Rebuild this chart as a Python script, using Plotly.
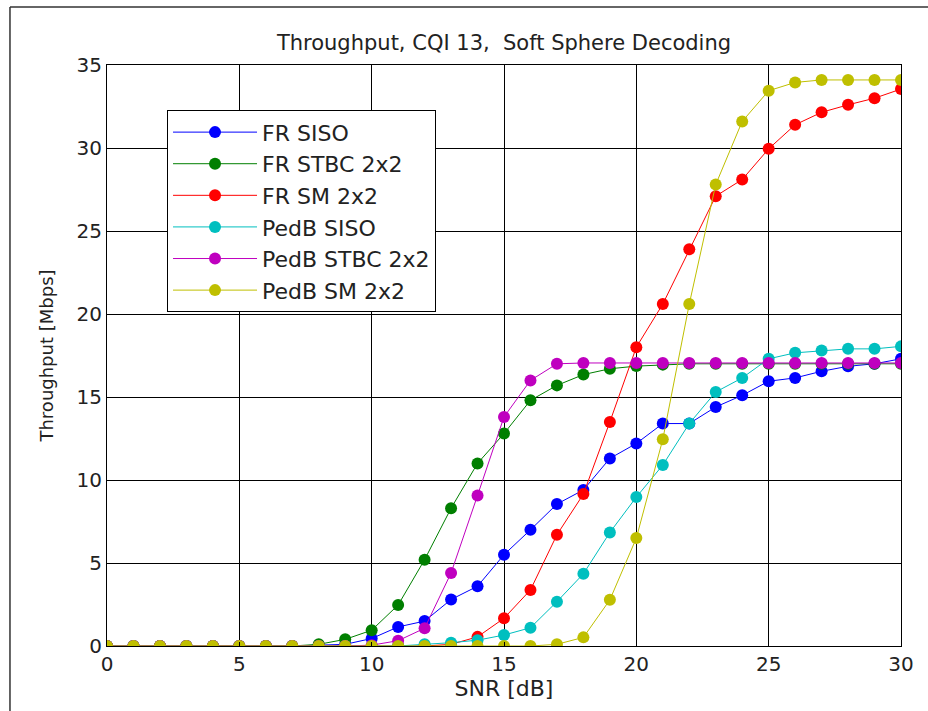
import plotly.graph_objects as go

snr_db = list(range(0, 31))

fr_siso = [0, 0, 0, 0, 0, 0, 0, 0, 0.05, 0.1, 0.45, 1.15, 1.5, 2.8, 3.6, 5.5,
           7.0, 8.55, 9.4, 11.3, 12.2, 13.4, 13.4, 14.4, 15.1, 15.95, 16.15,
           16.55, 16.85, 17.0, 17.3]
fr_stbc = [0, 0, 0, 0, 0, 0, 0, 0, 0.1, 0.4, 0.95, 2.47, 5.2, 8.3, 11.0, 12.8,
           14.8, 15.7, 16.35, 16.7, 16.86, 16.95, 17.0, 17.0, 17.0, 17.0, 17.0,
           17.0, 17.0, 17.0, 17.0]
fr_sm = [0, 0, 0, 0, 0, 0, 0, 0, 0, 0, 0, 0, 0, 0.1, 0.55, 1.67,
         3.38, 6.7, 9.15, 13.5, 18.0, 20.6, 23.9, 27.1, 28.1, 29.95, 31.4,
         32.15, 32.6, 33.0, 33.55]
pedb_siso = [0, 0, 0, 0, 0, 0, 0, 0, 0, 0, 0, 0, 0.1, 0.2, 0.35, 0.66,
             1.1, 2.67, 4.35, 6.84, 8.97, 10.9, 13.4, 15.3, 16.15, 17.3, 17.66,
             17.8, 17.9, 17.9, 18.05]
pedb_stbc = [0, 0, 0, 0, 0, 0, 0, 0, 0, 0, 0.05, 0.32, 1.07, 4.4, 9.07, 13.8,
             16.0, 17.0, 17.05, 17.05, 17.05, 17.05, 17.05, 17.05, 17.05, 17.05,
             17.05, 17.05, 17.05, 17.05, 17.05]
pedb_sm = [0, 0, 0, 0, 0, 0, 0, 0, 0, 0, 0, 0, 0, 0, 0, 0,
           0, 0.1, 0.52, 2.78, 6.5, 12.45, 20.6, 27.8, 31.6, 33.45, 33.95,
           34.1, 34.1, 34.1, 34.1]

series_names = ["FR SISO", "FR STBC 2x2", "FR SM 2x2",
                "PedB SISO", "PedB STBC 2x2", "PedB SM 2x2"]
series_values = [fr_siso, fr_stbc, fr_sm, pedb_siso, pedb_stbc, pedb_sm]
series_colors = ["#0000FF", "#007F00", "#FF0000",
                 "#00BFBF", "#BF00BF", "#BFBF00"]

x_ticks = [0, 5, 10, 15, 20, 25, 30]
y_ticks = [0, 5, 10, 15, 20, 25, 30, 35]

FONT = "DejaVu Sans, Liberation Sans, sans-serif"
TEXT = "#222"

fig = go.Figure()
for name, vals, col in zip(series_names, series_values, series_colors):
    fig.add_trace(go.Scatter(
        x=snr_db, y=vals, name=name, mode="lines+markers",
        legendgroup=name,
        line=dict(color=col, width=1),
        marker=dict(color=col, size=12, symbol="circle"),
    ))

axis_common = dict(
    showgrid=True, gridcolor="black", gridwidth=1,
    showline=True, linecolor="black", linewidth=1, mirror="ticks",
    ticks="inside", ticklen=4, tickcolor="black",
    zeroline=False,
    tickfont=dict(family=FONT, size=20, color=TEXT),
)

fig.update_xaxes(range=[0, 30], tickvals=x_ticks,
                 title=dict(text="SNR [dB]", standoff=4,
                            font=dict(family=FONT, size=22, color=TEXT)),
                 **axis_common)
fig.update_yaxes(range=[0, 35], tickvals=y_ticks,
                 title=dict(text="Throughput [Mbps]", standoff=18,
                            font=dict(family=FONT, size=18, color=TEXT)),
                 **axis_common)

# outer frame of the figure: top and left edges
frame = dict(color="#333", width=1.5)
fig.add_shape(type="line", xref="paper", yref="paper",
              x0=-0.1222, x1=1.2, y0=1.1, y1=1.1, line=frame)
fig.add_shape(type="line", xref="paper", yref="paper",
              x0=-0.1222, x1=-0.1222, y0=1.1, y1=-0.2, line=frame)

fig.update_layout(
    width=928, height=711,
    margin=dict(l=107, r=27, t=65, b=65),
    paper_bgcolor="white", plot_bgcolor="white",
    title=dict(text="Throughput, CQI 13,  Soft Sphere Decoding",
               x=0.5, xanchor="center", y=0.94, yanchor="middle",
               xref="paper",
               font=dict(family=FONT, size=21, color=TEXT)),
    showlegend=True,
    legend=dict(x=0.0756, y=0.922, xanchor="left", yanchor="top",
                bgcolor="white", bordercolor="black", borderwidth=1,
                font=dict(family=FONT, size=22, color=TEXT),
                tracegroupgap=0, traceorder="grouped",
                itemwidth=84),
)

fig.write_html("out.html")
